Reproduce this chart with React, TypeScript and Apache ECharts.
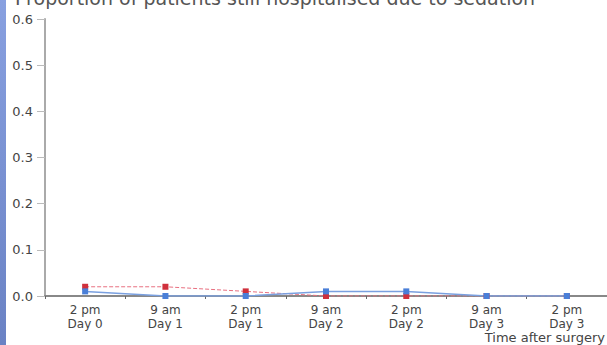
import React, { useEffect, useRef } from "react";
import * as echarts from "echarts";

const categories = ["2 pm\nDay 0", "9 am\nDay 1", "2 pm\nDay 1", "9 am\nDay 2", "2 pm\nDay 2", "9 am\nDay 3", "2 pm\nDay 3"];
const redValues = [0.02, 0.02, 0.01, 0.0, 0.0, 0.0, 0.0];
const blueValues = [0.01, 0.0, 0.0, 0.01, 0.01, 0.0, 0.0];
const titleText = "Proportion of patients still hospitalised due to sedation";
const xAxisTitle = "Time after surgery";

const FONT = "DejaVu Sans";

export default function App() {
  const ref = useRef<HTMLDivElement>(null);
  useEffect(() => {
    if (!ref.current) return;
    const chart = echarts.init(ref.current, null, { renderer: "svg" });
    chart.setOption({
      animation: false,
      textStyle: { fontFamily: FONT },
      title: {
        text: titleText,
        left: 10,
        top: -17,
        textStyle: { fontSize: 19, fontWeight: "normal", color: "#555", fontFamily: FONT },
      },
      graphic: [
        {
          type: "rect",
          shape: { x: 0, y: 0, width: 6, height: 345 },
          style: {
            fill: new echarts.graphic.LinearGradient(0, 0, 0, 1, [
              { offset: 0, color: "#88a0e0" },
              { offset: 1, color: "#6a82c4" },
            ]),
          },
        },
        {
          type: "text",
          right: 2,
          top: 331,
          style: { text: xAxisTitle, fontSize: 13, fill: "#444", fontFamily: FONT },
        },
      ],
      grid: { left: 45, right: 0, top: 19, bottom: 49, containLabel: false },
      xAxis: {
        type: "category",
        data: categories,
        boundaryGap: true,
        axisLine: { lineStyle: { color: "#888", width: 2 } },
        axisTick: { show: true, length: 3, lineStyle: { color: "#666" } },
        axisLabel: { fontSize: 12, color: "#444", lineHeight: 14, margin: 7, fontFamily: FONT },
      },
      yAxis: {
        type: "value",
        min: 0,
        max: 0.6,
        interval: 0.1,
        splitLine: { show: false },
        axisLine: { show: true, lineStyle: { color: "#aaa", width: 2 } },
        axisTick: { show: true, length: 8, lineStyle: { color: "#bbb" } },
        axisLabel: {
          fontSize: 13,
          color: "#444",
          margin: 12,
          fontFamily: FONT,
          formatter: (v: number) => v.toFixed(1),
        },
      },
      series: [
        {
          type: "line",
          data: redValues,
          symbol: "rect",
          symbolSize: 6,
          itemStyle: { color: "#d0303c" },
          lineStyle: { color: "#e87080", width: 1, type: "dashed" },
        },
        {
          type: "line",
          data: blueValues,
          symbol: "rect",
          symbolSize: 6,
          itemStyle: { color: "#4a7fd8" },
          lineStyle: { color: "#7aa0e0", width: 1.5 },
        },
      ],
    });
    return () => chart.dispose();
  }, []);
  return <div ref={ref} style={{ width: 607, height: 345, position: "absolute", left: 0, top: 0 }} />;
}
